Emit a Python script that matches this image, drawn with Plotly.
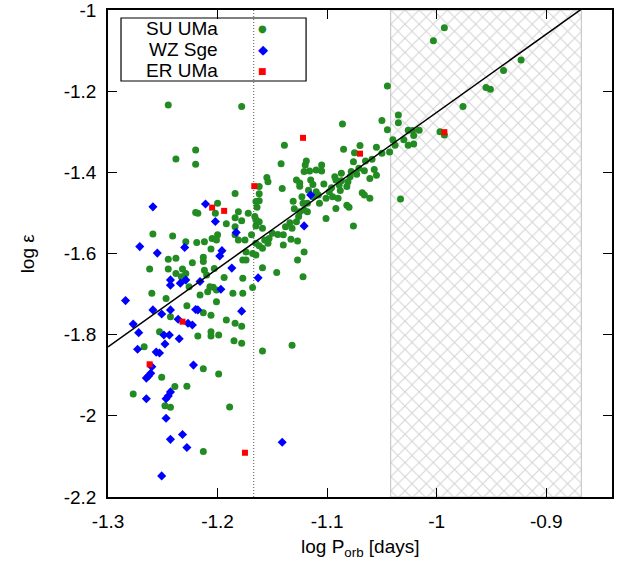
import plotly.graph_objects as go

# ---------------- data (log P_orb [days], log epsilon) ----------------
su_x = [-0.993,-1.003,-0.923,-0.939,-0.955,-0.951,-0.976,
        -1.045,-1.050,-1.035,-1.035,-1.045,-1.026,-1.022,-1.016,-1.021,-1.030,-1.040,-1.038,-1.026,-1.021,-0.997,-0.993,-1.050,-1.043,
        -1.086,-1.139,-1.070,-1.085,-1.075,-1.055,-1.033,
        -1.119,-1.120,-1.105,-1.142,-1.121,-1.116,-1.110,-1.105,-1.076,-1.065,-1.059,-1.057,-1.061,-1.055,-1.071,-1.066,-1.087,-1.093,-1.079,-1.078,-1.073,
        -1.155,-1.154,-1.128,-1.125,-1.125,-1.141,-1.115,-1.113,-1.103,-1.096,-1.092,-1.087,-1.081,-1.082,-1.089,-1.098,-1.110,-1.117,-1.113,-1.108,-1.123,-1.131,-1.122,-1.118,-1.107,-1.101,-1.095,-1.090,-1.088,-1.068,-1.066,-1.061,
        -1.092,-1.082,-1.080,-1.130,-1.125,-1.121,-1.118,-1.126,-1.101,-1.128,-1.134,-1.138,-1.132,-1.076,-1.159,-1.165,-1.165,-1.166,-1.164,-1.162,-1.162,-1.162,
        -1.150,-1.145,-1.140,-1.153,-1.157,-1.154,-1.140,-1.133,-1.127,-1.165,-1.162,-1.159,-1.168,-1.165,-1.121,-1.127,-1.159,-1.146,-1.122,
        -1.184,-1.165,-1.220,-1.218,-1.200,-1.202,-1.184,-1.181,-1.192,-1.184,-1.178,-1.172,-1.162,-1.259,-1.241,-1.229,-1.219,-1.212,-1.205,-1.200,-1.201,-1.184,-1.181,-1.175,-1.169,-1.174,
        -1.174,-1.177,-1.206,-1.213,-1.213,-1.223,-1.232,-1.229,-1.212,-1.210,-1.203,-1.194,-1.177,
        -1.245,-1.238,-1.262,-1.245,-1.238,-1.233,-1.226,-1.207,-1.204,-1.201,-1.216,-1.209,-1.186,-1.177,-1.168,-1.260,-1.247,-1.228,-1.201,-1.213,-1.206,-1.243,-1.192,-1.184,-1.178,
        -1.253,-1.218,-1.206,-1.206,-1.199,-1.185,-1.178,-1.267,-1.159,-1.213,-1.199,-1.251,-1.228,-1.239,-1.277,-1.248,-1.243,-1.189,-1.213,
        -1.245,-1.178,-1.220,-1.238,-1.220,-1.132]
su_y = [-1.044,-1.076,-1.123,-1.149,-1.191,-1.195,-1.238,
        -1.187,-1.272,-1.259,-1.278,-1.295,-1.296,-1.297,-1.296,-1.309,-1.320,-1.320,-1.333,-1.333,-1.330,-1.300,-1.308,-1.353,-1.350,
        -1.281,-1.333,-1.334,-1.343,-1.352,-1.338,-1.466,
        -1.372,-1.382,-1.382,-1.379,-1.398,-1.397,-1.394,-1.397,-1.374,-1.372,-1.368,-1.393,-1.415,-1.407,-1.390,-1.396,-1.402,-1.411,-1.411,-1.398,-1.405,
        -1.413,-1.423,-1.419,-1.426,-1.434,-1.440,-1.419,-1.430,-1.429,-1.438,-1.419,-1.421,-1.423,-1.435,-1.431,-1.448,-1.448,-1.444,-1.460,-1.456,-1.460,-1.471,-1.476,-1.476,-1.476,-1.464,-1.460,-1.464,-1.445,-1.450,-1.456,-1.464,
        -1.489,-1.481,-1.486,-1.490,-1.497,-1.493,-1.497,-1.509,-1.514,-1.522,-1.524,-1.534,-1.538,-1.532,-1.538,-1.532,-1.517,-1.509,-1.486,-1.470,-1.453,-1.435,
        -1.550,-1.553,-1.554,-1.563,-1.567,-1.575,-1.579,-1.565,-1.569,-1.575,-1.581,-1.587,-1.600,-1.604,-1.596,-1.616,-1.635,-1.647,-1.657,
        -1.452,-1.472,-1.499,-1.501,-1.476,-1.501,-1.512,-1.497,-1.527,-1.534,-1.519,-1.501,-1.522,-1.552,-1.557,-1.571,-1.573,-1.571,-1.563,-1.554,-1.567,-1.554,-1.567,-1.567,-1.554,-1.596,
        -1.616,-1.616,-1.589,-1.609,-1.620,-1.623,-1.638,-1.649,-1.641,-1.653,-1.637,-1.659,-1.661,
        -1.614,-1.612,-1.638,-1.638,-1.649,-1.657,-1.682,-1.682,-1.683,-1.690,-1.702,-1.694,-1.698,-1.698,-1.684,-1.698,-1.711,-1.729,-1.719,-1.746,-1.752,-1.756,-1.764,-1.772,-1.779,
        -1.793,-1.803,-1.793,-1.803,-1.801,-1.815,-1.821,-1.830,-1.840,-1.884,-1.897,-1.905,-1.927,-1.928,-1.946,-1.975,-1.979,-1.978,-2.088,
        -1.234,-1.238,-1.345,-1.367,-1.380,-1.826]

wz_x = [-1.259,-1.211,-1.202,-1.183,-1.271,-1.255,-1.230,-1.196,-1.198,-1.187,-1.163,-1.243,-1.243,-1.234,-1.229,-1.216,-1.197,
        -1.284,-1.259,-1.251,-1.243,-1.220,-1.218,-1.178,-1.277,-1.236,-1.227,-1.223,-1.272,-1.249,-1.244,-1.235,-1.248,
        -1.273,-1.256,-1.253,-1.222,-1.260,-1.261,-1.265,-1.263,-1.243,-1.245,-1.247,-1.265,-1.247,-1.232,-1.243,-1.228,
        -1.251,-1.141,-1.115,-1.121]
wz_y = [-1.485,-1.478,-1.521,-1.548,-1.583,-1.599,-1.585,-1.593,-1.606,-1.636,-1.660,-1.665,-1.678,-1.673,-1.665,-1.669,-1.688,
        -1.716,-1.739,-1.749,-1.739,-1.738,-1.739,-1.742,-1.774,-1.762,-1.772,-1.776,-1.795,-1.801,-1.801,-1.810,-1.823,
        -1.836,-1.843,-1.845,-1.875,-1.879,-1.895,-1.907,-1.902,-1.941,-1.951,-1.958,-1.958,-2.006,-2.046,-2.058,-2.078,
        -2.148,-2.065,-1.456,-1.532]

er_x = [-1.1665,-1.205,-1.194,-1.232,-1.262,-1.175,-1.122,-1.070,-0.993]
er_y = [-1.434,-1.487,-1.495,-1.768,-1.873,-2.091,-1.315,-1.354,-1.301]

# linear relation log eps = fit_a + fit_b * log P
fit_b = 1.926
fit_a = -1.83 - fit_b * (-1.3)

# shaded (hatched) period range and dotted boundary
hatch_lo, hatch_hi = -1.042, -0.868
dotted_x = -1.167

x_range = [-1.3, -0.84]
y_range = [-2.2, -1.0]
x_tickvals = [-1.3, -1.2, -1.1, -1.0, -0.9]
x_ticktext = ["-1.3", "-1.2", "-1.1", "-1", "-0.9"]
y_tickvals = [-2.2, -2.0, -1.8, -1.6, -1.4, -1.2, -1.0]
y_ticktext = ["-2.2", "-2", "-1.8", "-1.6", "-1.4", "-1.2", "-1"]

legend_names = ["SU UMa", "WZ Sge", "ER UMa"]
legend_glyphs = ["\u25CF", "\u25C6", "\u25A0"]
legend_colors = ["#228B22", "#0000FF", "#FF0000"]
legend_glyph_sizes = [10, 13, 9]

FONT = "Liberation Sans, Arial, sans-serif"

fig = go.Figure()

# hatched region
fig.add_trace(go.Scatter(
    x=[hatch_lo, hatch_hi, hatch_hi, hatch_lo, hatch_lo],
    y=[y_range[0], y_range[0], y_range[1], y_range[1], y_range[0]],
    mode="lines", fill="toself",
    line=dict(color="#c0c0c0", width=1),
    fillcolor="rgba(0,0,0,0)",
    fillpattern=dict(shape="x", fgcolor="#a8a8a8", bgcolor="white", size=10, solidity=0.2),
    showlegend=False, hoverinfo="skip"))

# dotted vertical line
fig.add_trace(go.Scatter(
    x=[dotted_x, dotted_x], y=y_range, mode="lines",
    line=dict(color="#555555", width=1, dash="1px,2px"),
    showlegend=False, hoverinfo="skip"))

fig.add_trace(go.Scatter(
    x=su_x, y=su_y, mode="markers", name="SU UMa",
    marker=dict(symbol="circle", size=7, color="#228B22"),
    showlegend=False))
fig.add_trace(go.Scatter(
    x=wz_x, y=wz_y, mode="markers", name="WZ Sge",
    marker=dict(symbol="diamond", size=7, color="#0000FF"),
    showlegend=False))
fig.add_trace(go.Scatter(
    x=er_x, y=er_y, mode="markers", name="ER UMa",
    marker=dict(symbol="square", size=6, color="#FF0000"),
    showlegend=False))

# fit line
fit_x = x_range
fit_y = [fit_a + fit_b * v for v in fit_x]
fig.add_trace(go.Scatter(
    x=fit_x, y=fit_y, mode="lines",
    line=dict(color="black", width=1.5),
    showlegend=False, hoverinfo="skip"))

axis_common = dict(
    showgrid=False, zeroline=False, showline=True, linecolor="black", linewidth=1.5,
    mirror="ticks", ticks="inside", ticklen=9, tickwidth=1.2, tickcolor="black",
    tickfont=dict(family=FONT, size=19, color="black"), automargin=False,
    ticklabeloverflow="allow",
)

fig.update_layout(
    width=624, height=565,
    margin=dict(l=108, r=12, t=10, b=68, autoexpand=False),
    paper_bgcolor="white", plot_bgcolor="white",
    font=dict(family=FONT, size=19, color="black"),
    xaxis=dict(range=x_range, tickvals=x_tickvals, ticktext=x_ticktext,
               ticklabelstandoff=6, **axis_common),
    yaxis=dict(range=y_range, tickvals=y_tickvals, ticktext=y_ticktext,
               ticklabelstandoff=6, **axis_common),
    showlegend=False,
)

# axis titles
fig.add_annotation(text="log P<sub>orb</sub> [days]", xref="paper", yref="paper",
                   x=0.5, y=-0.105, xanchor="center", yanchor="middle", showarrow=False,
                   font=dict(family=FONT, size=19))
fig.add_annotation(text="log \u03b5", xref="paper", yref="paper", textangle=-90,
                   x=-0.159, y=0.5, xanchor="center", yanchor="middle", showarrow=False,
                   font=dict(family=FONT, size=19))

# custom legend (text left, symbol right, like gnuplot)
fig.add_shape(type="rect", xref="paper", yref="paper",
              x0=0.0258, x1=0.393, y0=0.8542, y1=0.9836,
              line=dict(color="black", width=1.2), fillcolor="rgba(0,0,0,0)")
legend_rows = [0.961, 0.918, 0.875]
for name, glyph, col, gs, ry in zip(legend_names, legend_glyphs, legend_colors, legend_glyph_sizes, legend_rows):
    fig.add_annotation(text=name, xref="paper", yref="paper", x=0.222, y=ry,
                       xanchor="right", yanchor="middle", showarrow=False,
                       font=dict(family=FONT, size=19, color="black"))
    fig.add_annotation(text=glyph, xref="paper", yref="paper", x=0.3075, y=ry,
                       xanchor="center", yanchor="middle", showarrow=False,
                       font=dict(family="DejaVu Sans", size=gs, color=col))

fig.write_html("out.html", config={"displayModeBar": False},
               post_script="document.body.style.margin='0';document.body.style.padding='0';")
